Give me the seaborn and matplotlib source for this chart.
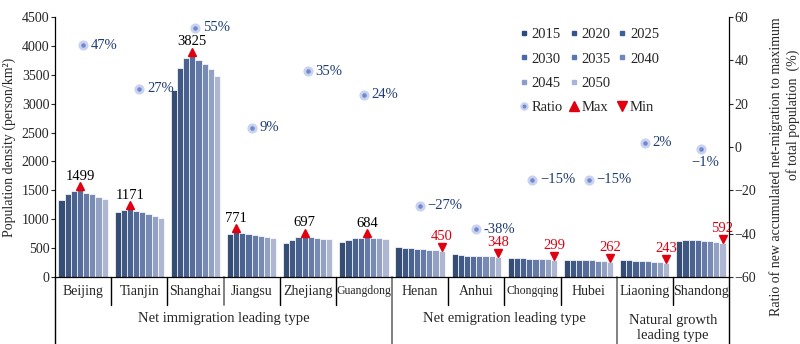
import numpy as np
import pandas as pd
import matplotlib
matplotlib.use("Agg")
import matplotlib.pyplot as plt
import matplotlib.transforms as mtransforms
from matplotlib.lines import Line2D
import seaborn as sns

# ---------------- data ----------------
provinces = ["Beijing", "Tianjin", "Shanghai", "Jiangsu", "Zhejiang", "Guangdong",
             "Henan", "Anhui", "Chongqing", "Hubei", "Liaoning", "Shandong"]
years = ["2015", "2020", "2025", "2030", "2035", "2040", "2045", "2050"]

beijing   = [1325, 1442, 1482, 1499, 1460, 1430, 1390, 1355]
tianjin   = [1130, 1160, 1171, 1145, 1120, 1090, 1055, 1020]
shanghai  = [3245, 3620, 3795, 3825, 3750, 3680, 3595, 3485]
jiangsu   = [745, 771, 762, 748, 735, 705, 693, 668]
zhejiang  = [580, 645, 690, 697, 692, 675, 663, 650]
guangdong = [610, 640, 670, 678, 684, 680, 675, 660]
henan     = [525, 510, 497, 490, 482, 472, 462, 450]
anhui     = [405, 385, 372, 370, 368, 360, 357, 348]
chongqing = [330, 328, 322, 320, 318, 312, 305, 299]
hubei     = [300, 298, 292, 290, 288, 278, 270, 262]
liaoning  = [290, 288, 285, 278, 275, 268, 258, 243]
shandong  = [615, 633, 633, 633, 615, 615, 604, 592]
density = [beijing, tianjin, shanghai, jiangsu, zhejiang, guangdong,
           henan, anhui, chongqing, hubei, liaoning, shandong]

ratio = [47, 27, 55, 9, 35, 24, -27, -38, -15, -15, 2, -1]
ratio_labels = ["47%", "27%", "55%", "9%", "35%", "24%",
                "\u221227%", "-38%", "\u221215%", "\u221215%", "2%", "\u22121%"]
mark_type = ["max"] * 6 + ["min"] * 6

groups = ["Net immigration leading type", "Net emigration leading type",
          "Natural growth\nleading type"]
group_span = [(0, 5), (6, 9), (10, 11)]

# ---------------- style ----------------
sns.set_style("ticks")
plt.rcParams["font.family"] = ["Liberation Serif", "DejaVu Serif"]
plt.rcParams["font.size"] = 10
plt.rcParams["axes.unicode_minus"] = True

palette = ["#2b4a7d", "#34558f", "#3d5e9c", "#4a69a8",
           "#5b77b3", "#6e87bf", "#8b9dcb", "#a8b4d8"]
red = "#e00010"
navy = "#1f3c72"

rows = []
for p, vals in zip(provinces, density):
    for y, v in zip(years, vals):
        rows.append({"province": p, "year": y, "density": v})
df = pd.DataFrame(rows)

fig = plt.figure(figsize=(8, 3.44), dpi=100)
ax = fig.add_axes([55 / 800, 1 - 277 / 344, (729 - 55) / 800, 260 / 344])

sns.barplot(data=df, x="province", y="density", hue="year", order=provinces,
            hue_order=years, palette=palette, width=0.88, edgecolor="white",
            linewidth=0.5, errorbar=None, legend=False, ax=ax)

ax.set_xlim(-0.5, len(provinces) - 0.5)
ax.set_ylim(0, 4500)
ax.set_yticks(np.arange(0, 4501, 500))
ax.set_xlabel("")
ax.set_ylabel("")
ax.tick_params(axis="y", direction="out", length=3, width=0.8, pad=1, labelsize=10)
ax.tick_params(axis="x", length=0, pad=6, labelsize=10)
ax.set_xticks(range(len(provinces)))
ax.set_xticklabels(provinces)
for t in ax.get_xticklabels():
    if t.get_text() in ("Guangdong", "Chongqing"):
        t.set_fontsize(8.5)
for s in ["top", "right"]:
    ax.spines[s].set_visible(False)
for s in ["left", "bottom"]:
    ax.spines[s].set_color("black")
    ax.spines[s].set_linewidth(0.9)

# max / min markers
up = mtransforms.offset_copy(ax.transData, fig=fig, x=0, y=4, units="dots")
for i, (vals, mt) in enumerate(zip(density, mark_type)):
    j = int(np.argmax(vals)) if mt == "max" else int(np.argmin(vals))
    bar = ax.containers[j][i]
    bx = bar.get_x() + bar.get_width() / 2
    by = bar.get_height()
    ax.plot(bx, by, marker="^" if mt == "max" else "v", color=red,
            markersize=5.2, transform=up, clip_on=False, zorder=5)
    ax.annotate(str(vals[j]), (bx, by), xytext=(0, 5.5), textcoords="offset points",
                ha="center", va="bottom", fontsize=10.5,
                color="black" if mt == "max" else red, zorder=6)

# secondary axis with ratios
ax2 = ax.twinx()
ax2.set_ylim(-60, 60)
ax2.set_yticks(np.arange(-60, 61, 20))
sns.scatterplot(x=np.arange(len(provinces)), y=ratio, ax=ax2, s=28,
                color="#6f88cf", edgecolor="#c9d2ee", linewidth=2.0, zorder=5,
                legend=False)
for i, (r, lab) in enumerate(zip(ratio, ratio_labels)):
    if provinces[i] == "Shandong":
        ax2.annotate(lab, (i, r), xytext=(3, -5), textcoords="offset points",
                     ha="center", va="top", color=navy, fontsize=10.5)
    else:
        ax2.annotate(lab, (i, r), xytext=(5.5, 0), textcoords="offset points",
                     ha="left", va="center", color=navy, fontsize=10.5)
ax2.tick_params(axis="y", direction="out", length=3, width=0.8, pad=1, labelsize=10)
ax2.set_xlim(-0.5, len(provinces) - 0.5)
for s in ["top", "left", "bottom"]:
    ax2.spines[s].set_visible(False)
ax2.spines["right"].set_color("black")
ax2.spines["right"].set_linewidth(0.9)
ax2.set_ylabel("")

# separators below the axis
blend = mtransforms.blended_transform_factory(ax.transData, ax.transAxes)
long_seps = [-0.5, 5.5, 9.5, 11.5]
for k in range(len(provinces) + 1):
    x = k - 0.5
    if x in long_seps:
        col = "black" if x in (-0.5, 11.5) else "#777777"
        ax.plot([x, x], [0, -0.26], transform=blend, clip_on=False,
                color=col, lw=1.0 if col == "black" else 1.3)
    else:
        col = "#777777" if x == 2.5 else "black"
        ax.plot([x, x], [0, -0.108], transform=blend, clip_on=False,
                color=col, lw=1.0 if col == "black" else 1.3)

for g, (a, b) in zip(groups, group_span):
    yy = -0.158 if "\n" not in g else -0.196
    ax.text((a + b) / 2, yy, g, transform=blend, ha="center", va="center",
            fontsize=10.5, linespacing=1.2)

# axis titles
fig.text(9.5 / 800, 1 - 147 / 344, "Population density (person/km\u00b2)",
         rotation=90, ha="center", va="center", fontsize=10)
fig.text(776 / 800, 1 - 167 / 344,
         "Ratio of new accumulated net-migration to maximum",
         rotation=90, ha="center", va="center", fontsize=10)
fig.text(793 / 800, 1 - 115 / 344, "of total population  (%)",
         rotation=90, ha="center", va="center", fontsize=10)

# legend
year_h = [Line2D([], [], ls="", marker="s", markersize=3.2, color=c) for c in palette]
ratio_h = Line2D([], [], ls="", marker="o", markersize=4.5, markerfacecolor="#6f88cf",
                 markeredgecolor="#c9d2ee", markeredgewidth=1.6)
max_h = Line2D([], [], ls="", marker="^", markersize=7, color=red)
min_h = Line2D([], [], ls="", marker="v", markersize=7, color=red)
blank = Line2D([], [], ls="", marker="")
handles = [year_h[0], year_h[3], year_h[6], ratio_h,
           year_h[1], year_h[4], year_h[7], max_h,
           year_h[2], year_h[5], blank, min_h]
labels = [years[0], years[3], years[6], "Ratio",
          years[1], years[4], years[7], "Max",
          years[2], years[5], "", "Min"]
ax2.legend(handles, labels, ncol=3, frameon=False, loc="upper left",
           bbox_to_anchor=(509 / 800, 1 - 18 / 344), bbox_transform=fig.transFigure,
           handlelength=0.6, handletextpad=0.25, columnspacing=0.45,
           labelspacing=0.75, fontsize=10.5, borderpad=0.2)

fig.savefig("out.png", dpi=100)
